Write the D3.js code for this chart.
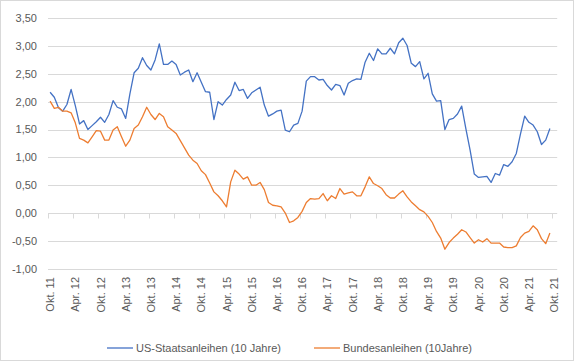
<!DOCTYPE html>
<html>
<head>
<meta charset="utf-8">
<script src="https://cdn.jsdelivr.net/npm/d3@7"></script>
<style>
  body { margin: 0; background: #fff; }
  text { font-family: "Liberation Sans", Arial, sans-serif; fill: #595959; }
</style>
</head>
<body>
<div id="chart"></div>
<script>
// Rendite 10-jähriger Staatsanleihen, Monatsende Okt. 2011 - Sep. 2021 (Kategorie Okt. 21 leer)
const usYields = [
  2.17, 2.08, 1.89, 1.83, 1.95, 2.22, 1.93, 1.60, 1.66, 1.50, 1.57, 1.64,
  1.72, 1.63, 1.77, 2.02, 1.90, 1.87, 1.70, 2.14, 2.52, 2.60, 2.79, 2.65,
  2.57, 2.75, 3.04, 2.67, 2.67, 2.73, 2.67, 2.48, 2.53, 2.57, 2.36, 2.52,
  2.35, 2.18, 2.17, 1.68, 2.00, 1.94, 2.04, 2.12, 2.35, 2.20, 2.22, 2.06,
  2.16, 2.21, 2.26, 1.94, 1.74, 1.78, 1.83, 1.85, 1.49, 1.46, 1.58, 1.61,
  1.83, 2.37, 2.45, 2.45, 2.39, 2.40, 2.29, 2.21, 2.31, 2.29, 2.12, 2.33,
  2.38, 2.41, 2.40, 2.71, 2.87, 2.74, 2.95, 2.86, 2.86, 2.96, 2.86, 3.06,
  3.14, 3.01, 2.69, 2.63, 2.72, 2.41, 2.51, 2.14, 2.01, 2.02, 1.50, 1.68,
  1.70, 1.78, 1.92, 1.51, 1.13, 0.70, 0.64, 0.65, 0.66, 0.55, 0.71, 0.68,
  0.87, 0.84, 0.92, 1.07, 1.42, 1.74, 1.63, 1.58, 1.46, 1.23, 1.31, 1.52
];
const bundYields = [
  2.01, 1.88, 1.90, 1.83, 1.83, 1.80, 1.62, 1.34, 1.31, 1.26, 1.37, 1.48,
  1.47, 1.31, 1.31, 1.49, 1.55, 1.37, 1.20, 1.31, 1.52, 1.58, 1.73, 1.90,
  1.77, 1.68, 1.79, 1.73, 1.55, 1.49, 1.43, 1.30, 1.17, 1.04, 0.95, 0.89,
  0.76, 0.69, 0.54, 0.38, 0.31, 0.22, 0.11, 0.56, 0.77, 0.70, 0.61, 0.65,
  0.50, 0.50, 0.55, 0.42, 0.19, 0.14, 0.13, 0.11, 0.00, -0.17, -0.14, -0.08,
  0.03, 0.19, 0.26, 0.25, 0.26, 0.35, 0.22, 0.31, 0.26, 0.44, 0.34, 0.36,
  0.38, 0.31, 0.31, 0.47, 0.65, 0.53, 0.49, 0.44, 0.33, 0.27, 0.27, 0.34,
  0.40, 0.29, 0.20, 0.13, 0.06, 0.02, -0.06, -0.17, -0.33, -0.45, -0.65, -0.53,
  -0.45, -0.38, -0.30, -0.34, -0.44, -0.54, -0.48, -0.52, -0.46, -0.54, -0.54, -0.54,
  -0.61, -0.62, -0.62, -0.59, -0.44, -0.36, -0.33, -0.23, -0.30, -0.46, -0.55, -0.36
];
const tickLabels = [
  "Okt. 11", "Apr. 12", "Okt. 12", "Apr. 13", "Okt. 13", "Apr. 14", "Okt. 14",
  "Apr. 15", "Okt. 15", "Apr. 16", "Okt. 16", "Apr. 17", "Okt. 17", "Apr. 18",
  "Okt. 18", "Apr. 19", "Okt. 19", "Apr. 20", "Okt. 20", "Apr. 21", "Okt. 21"
];
const yTicks = [-1, -0.5, 0, 0.5, 1, 1.5, 2, 2.5, 3, 3.5];
const seriesNames = ["US-Staatsanleihen (10 Jahre)", "Bundesanleihen (10Jahre)"];
const seriesColors = ["#4472C4", "#ED7D31"];

const width = 574, height = 361;
const monthsPerTick = 6;
const nCategories = (tickLabels.length - 1) * monthsPerTick + 1; // 121 Monate

const svg = d3.select("#chart").append("svg")
  .attr("width", width)
  .attr("height", height);

// Rahmen des Diagramms
svg.append("rect")
  .attr("x", 0.5).attr("y", 0.5)
  .attr("width", width - 1).attr("height", height - 1)
  .attr("fill", "#fff")
  .attr("stroke", "#d9d9d9");

const x = d3.scaleBand()
  .domain(d3.range(nCategories))
  .range([48, 48 + nCategories * 4.2])
  .paddingInner(0).paddingOuter(0);

const y = d3.scaleLinear()
  .domain([-1, 3.5])
  .range([268.7, 18.2]);

const de = d3.formatLocale({ decimal: ",", thousands: ".", grouping: [3], currency: ["", " €"], minus: "-" });
const fmt = de.format(".2f");

const [x0, x1] = x.range();

// Gitternetzlinien
svg.append("g")
  .selectAll("line")
  .data(yTicks)
  .join("line")
  .attr("x1", x0).attr("x2", x1 + 1)
  .attr("y1", d => Math.round(y(d)) + 0.5)
  .attr("y2", d => Math.round(y(d)) + 0.5)
  .attr("stroke", "#d9d9d9")
  .attr("stroke-width", 1);

// Y-Achse Beschriftung
svg.append("g")
  .selectAll("text")
  .data(yTicks)
  .join("text")
  .attr("x", 37)
  .attr("y", d => y(d))
  .attr("dy", "0.36em")
  .attr("text-anchor", "end")
  .attr("font-size", 11)
  .text(d => fmt(d));

// X-Achse bei 0 mit Teilstrichen
const zeroY = Math.round(y(0)) + 0.5;
const tickIdx = d3.range(0, nCategories, monthsPerTick);
svg.append("g")
  .selectAll("line")
  .data(tickIdx)
  .join("line")
  .attr("x1", d => Math.round(x(d)) + 0.5)
  .attr("x2", d => Math.round(x(d)) + 0.5)
  .attr("y1", zeroY)
  .attr("y2", zeroY + 5)
  .attr("stroke", "#d9d9d9");

svg.append("g")
  .selectAll("text")
  .data(tickIdx)
  .join("text")
  .attr("transform", (d, i) => `translate(${x(d) + x.bandwidth() / 2 + 4},277) rotate(-90)`)
  .attr("text-anchor", "end")
  .attr("font-size", 11)
  .text((d, i) => tickLabels[i]);

// Linien
const line = d3.line()
  .x((d, i) => x(i) + x.bandwidth() / 2)
  .y(d => y(d));

[usYields, bundYields].forEach((data, k) => {
  svg.append("path")
    .datum(data)
    .attr("fill", "none")
    .attr("stroke", seriesColors[k])
    .attr("stroke-width", 1.3)
    .attr("stroke-linejoin", "round")
    .attr("d", line);
});

// Legende
const legendX = [107, 314];
const legendY = 348;
const legend = svg.append("g")
  .selectAll("g")
  .data(seriesNames)
  .join("g")
  .attr("transform", (d, i) => `translate(${legendX[i]},${legendY})`);

legend.append("line")
  .attr("x1", 0).attr("x2", 26)
  .attr("y1", 0).attr("y2", 0)
  .attr("stroke", (d, i) => seriesColors[i])
  .attr("stroke-width", 1.3);

legend.append("text")
  .attr("x", 29)
  .attr("y", 0)
  .attr("dy", "0.35em")
  .attr("font-size", 11)
  .text(d => d);
</script>
</body>
</html>
